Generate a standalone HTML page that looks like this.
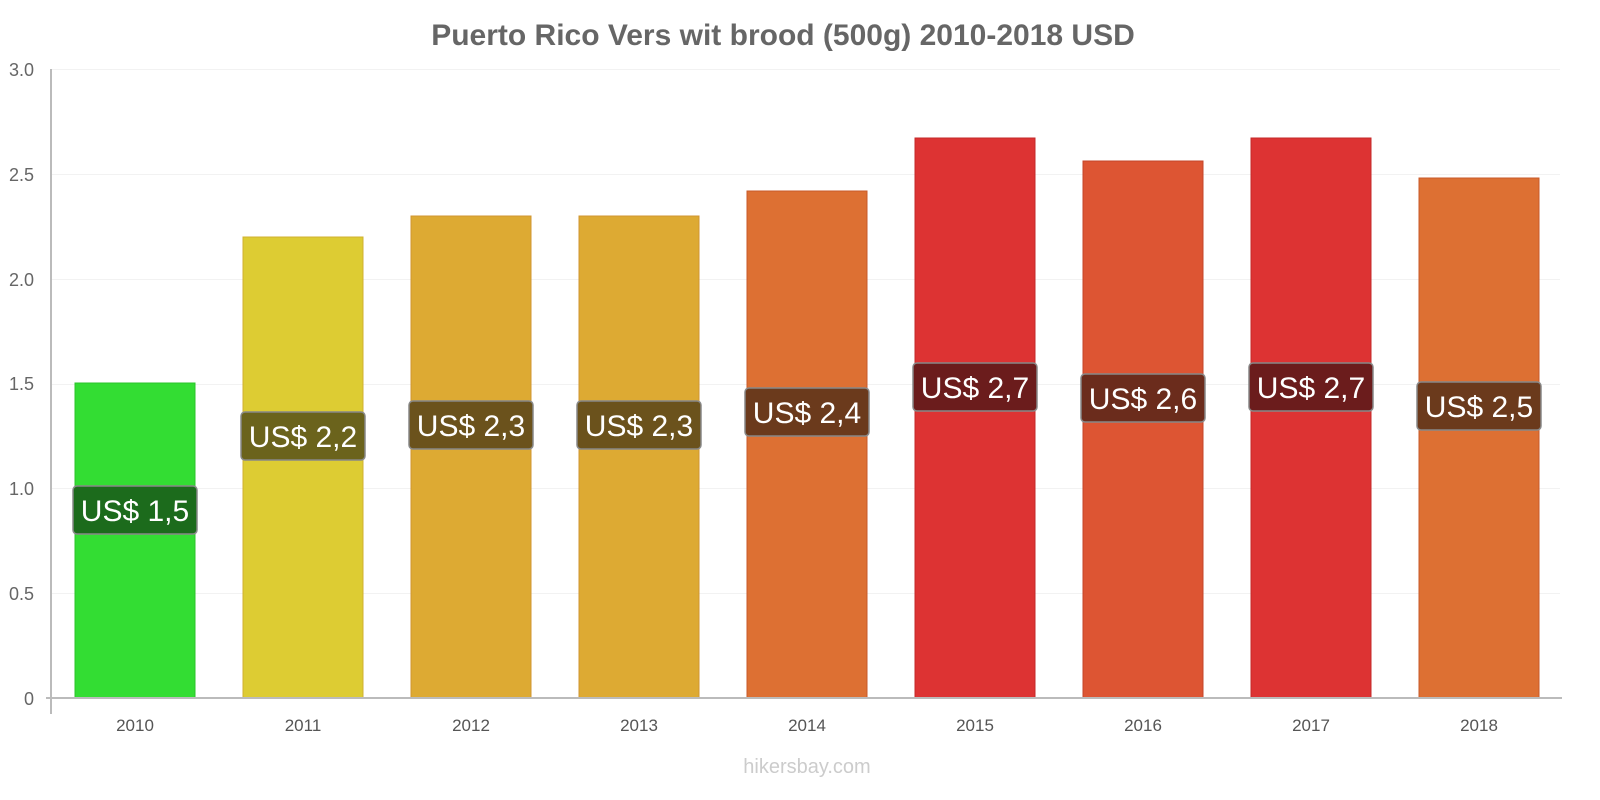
<!DOCTYPE html>
<html><head><meta charset="utf-8"><style>body{margin:0;background:#fff}svg{display:block}</style></head><body>
<svg width="1600" height="800" xmlns="http://www.w3.org/2000/svg" font-family="Liberation Sans, sans-serif">
<text x="783" y="45" text-anchor="middle" font-size="30" font-weight="bold" fill="#666">Puerto Rico Vers wit brood (500g) 2010-2018 USD</text>
<g stroke="#f2f2f2" stroke-width="1">
<line x1="51" x2="1560" y1="69.5" y2="69.5"/><line x1="51" x2="1560" y1="174.5" y2="174.5"/><line x1="51" x2="1560" y1="279.5" y2="279.5"/><line x1="51" x2="1560" y1="384.5" y2="384.5"/><line x1="51" x2="1560" y1="488.5" y2="488.5"/><line x1="51" x2="1560" y1="593.5" y2="593.5"/>
</g>
<g font-size="18" fill="#666" text-anchor="end">
<text x="34" y="76">3.0</text><text x="34" y="181">2.5</text><text x="34" y="286">2.0</text><text x="34" y="390">1.5</text><text x="34" y="495">1.0</text><text x="34" y="600">0.5</text><text x="34" y="705">0</text>
</g>
<g stroke-width="1">
<rect x="75" y="383" width="120" height="315" fill="#33dd33" stroke="#2bc42b"/>
<rect x="243" y="237" width="120" height="461" fill="#ddcc33" stroke="#d0b030"/>
<rect x="411" y="216" width="120" height="482" fill="#ddaa33" stroke="#d09530"/>
<rect x="579" y="216" width="120" height="482" fill="#ddaa33" stroke="#d09530"/>
<rect x="747" y="191" width="120" height="507" fill="#dd7033" stroke="#c85a2a"/>
<rect x="915" y="138" width="120" height="560" fill="#dd3333" stroke="#c42a2a"/>
<rect x="1083" y="161" width="120" height="537" fill="#dd5533" stroke="#c4452a"/>
<rect x="1251" y="138" width="120" height="560" fill="#dd3333" stroke="#c42a2a"/>
<rect x="1419" y="178" width="120" height="520" fill="#dd7033" stroke="#c85a2a"/>
</g>
<line x1="51" x2="51" y1="69" y2="714" stroke="#bbb" stroke-width="2"/>
<line x1="46" x2="1562" y1="698" y2="698" stroke="#bbb" stroke-width="2"/>
<g font-size="17" fill="#555" text-anchor="middle">
<text x="135" y="731">2010</text><text x="303" y="731">2011</text><text x="471" y="731">2012</text><text x="639" y="731">2013</text><text x="807" y="731">2014</text><text x="975" y="731">2015</text><text x="1143" y="731">2016</text><text x="1311" y="731">2017</text><text x="1479" y="731">2018</text>
</g>
<g stroke="#888" stroke-width="1.5" font-size="30" text-anchor="middle">
<rect x="73" y="486" width="124" height="48" rx="4" fill="#1c6b1c"/>
<rect x="241" y="412" width="124" height="48" rx="4" fill="#6b631c"/>
<rect x="409" y="401" width="124" height="48" rx="4" fill="#6b521c"/>
<rect x="577" y="401" width="124" height="48" rx="4" fill="#6b521c"/>
<rect x="745" y="388" width="124" height="48" rx="4" fill="#6b3a1c"/>
<rect x="913" y="363" width="124" height="48" rx="4" fill="#6b1c1c"/>
<rect x="1081" y="374" width="124" height="48" rx="4" fill="#6b2c1c"/>
<rect x="1249" y="363" width="124" height="48" rx="4" fill="#6b1c1c"/>
<rect x="1417" y="382" width="124" height="48" rx="4" fill="#6b3a1c"/>
</g>
<g font-size="30" fill="#fff" text-anchor="middle">
<text x="135" y="521">US$ 1,5</text><text x="303" y="447">US$ 2,2</text><text x="471" y="436">US$ 2,3</text><text x="639" y="436">US$ 2,3</text><text x="807" y="423">US$ 2,4</text><text x="975" y="398">US$ 2,7</text><text x="1143" y="409">US$ 2,6</text><text x="1311" y="398">US$ 2,7</text><text x="1479" y="417">US$ 2,5</text>
</g>
<text x="807" y="773" text-anchor="middle" font-size="20" fill="#ccc">hikersbay.com</text>
</svg>
</body></html>
